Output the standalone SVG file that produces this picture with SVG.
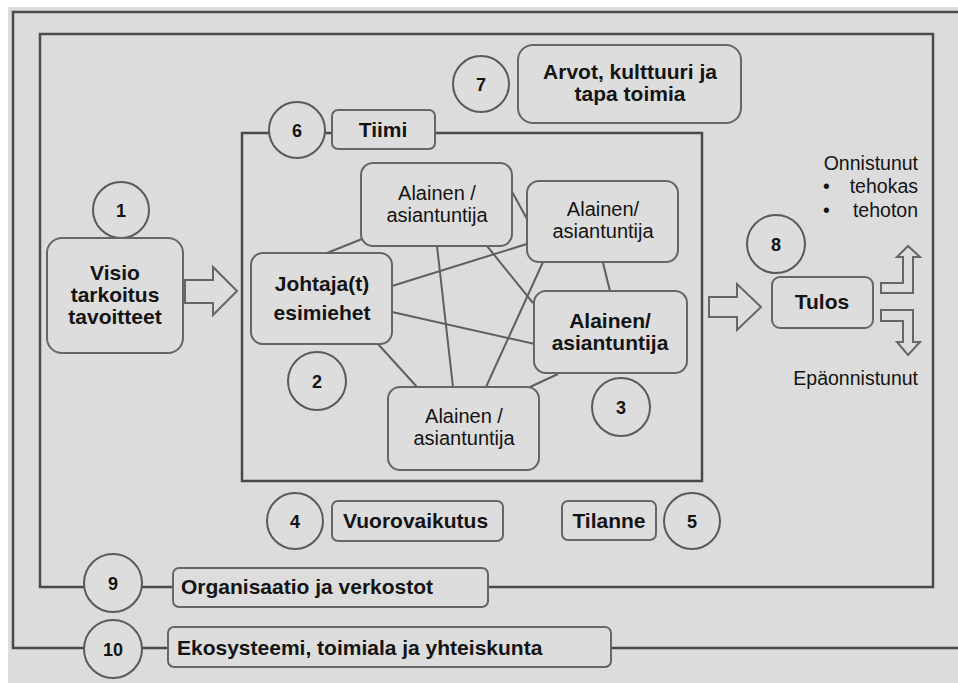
<svg xmlns="http://www.w3.org/2000/svg" width="958" height="683" viewBox="0 0 958 683">
<style>
.bg{fill:#dcdcdc}
.box{fill:#dddddd;stroke:#666;stroke-width:2}
.circ{fill:#dddddd;stroke:#5a5a5a;stroke-width:2}
.frame{fill:none;stroke:#4a4a4a;stroke-width:2.5}
.link{fill:none;stroke:#5f5f5f;stroke-width:2}
.barrow{fill:#dddddd;stroke:#666;stroke-width:2;stroke-linejoin:miter}
text{font-family:"Liberation Sans",Arial,sans-serif;fill:#141414}
.b{font-weight:bold;font-size:21px}
.r{font-size:20px}
.s{font-size:19.5px}
.n{font-weight:bold;font-size:18px;text-anchor:middle}
.c{text-anchor:middle}
.e{text-anchor:end}
</style>
<rect width="958" height="683" fill="#ffffff"/>
<rect class="bg" x="8" y="7" width="950" height="676"/>

<g id="connectors">
  <path class="frame" d="M84 648 H13 V12 H958"/>
  <path class="frame" d="M142 648 H168"/>
  <path class="frame" d="M611 648 H958"/>
  <path class="frame" d="M84 587 H40 V34 H933 V587 H488"/>
  <path class="frame" d="M142 587 H173"/>
  <path class="frame" d="M270 133 H242 V481 H702 V133 H435"/>
  <path class="frame" d="M325 133 H332"/>
  <line class="link" x1="327" y1="253" x2="362" y2="239"/>
  <line class="link" x1="510" y1="188" x2="527" y2="219"/>
  <line class="link" x1="392" y1="286" x2="530" y2="243"/>
  <line class="link" x1="392" y1="312" x2="535" y2="344"/>
  <line class="link" x1="378" y1="344" x2="417" y2="387"/>
  <line class="link" x1="437" y1="246" x2="453" y2="387"/>
  <line class="link" x1="487" y1="246" x2="533" y2="303"/>
  <line class="link" x1="543" y1="262" x2="486" y2="387"/>
  <line class="link" x1="603" y1="263" x2="610" y2="291"/>
  <line class="link" x1="558" y1="374" x2="530" y2="387"/>
  <polygon class="barrow" points="185,280 213,280 213,267 237,291 213,315 213,303 185,303"/>
  <polygon class="barrow" points="709,297 737,297 737,284 761,307 737,330 737,317 709,317"/>
  <polygon class="barrow" points="881,283 903,283 903,257 897,257 908,246 920,257 913,257 913,293 881,293"/>
  <polygon class="barrow" points="881,310 913,310 913,342 920,342 908,355 897,342 903,342 903,321 881,321"/>
</g>

<g id="n1">
  <circle class="circ" cx="121" cy="210" r="28"/>
  <text class="n" x="121" y="217">1</text>
</g>
<g id="visio">
  <rect class="box" x="47" y="238" width="136" height="115" rx="15"/>
  <text class="b c" x="115" y="280">Visio</text>
  <text class="b c" x="115" y="302">tarkoitus</text>
  <text class="b c" x="115" y="324">tavoitteet</text>
</g>

<g id="n6">
  <circle class="circ" cx="297" cy="130" r="28"/>
  <text class="n" x="297" y="137">6</text>
</g>
<g id="tiimi">
  <rect class="box" x="332" y="110" width="103" height="39" rx="6"/>
  <text class="b c" x="383" y="137">Tiimi</text>
</g>

<g id="n7">
  <circle class="circ" cx="481" cy="84" r="28"/>
  <text class="n" x="481" y="91">7</text>
</g>
<g id="arvot">
  <rect class="box" x="518" y="45" width="223" height="78" rx="15"/>
  <text class="b c" x="630" y="79">Arvot, kulttuuri ja</text>
  <text class="b c" x="630" y="101">tapa toimia</text>
</g>

<g id="alainenA">
  <rect class="box" x="361" y="163" width="151" height="83" rx="12"/>
  <text class="r c" x="437" y="200">Alainen /</text>
  <text class="r c" x="437" y="222">asiantuntija</text>
</g>
<g id="alainenB">
  <rect class="box" x="527" y="181" width="151" height="81" rx="12"/>
  <text class="r c" x="603" y="216">Alainen/</text>
  <text class="r c" x="603" y="238">asiantuntija</text>
</g>
<g id="johtaja">
  <rect class="box" x="251" y="253" width="141" height="91" rx="12"/>
  <text class="b c" x="322" y="291">Johtaja(t)</text>
  <text class="b c" x="322" y="320">esimiehet</text>
</g>
<g id="alainenC">
  <rect class="box" x="534" y="291" width="153" height="82" rx="12"/>
  <text class="b c" x="610" y="328">Alainen/</text>
  <text class="b c" x="610" y="350">asiantuntija</text>
</g>
<g id="alainenD">
  <rect class="box" x="388" y="387" width="151" height="83" rx="12"/>
  <text class="r c" x="464" y="423">Alainen /</text>
  <text class="r c" x="464" y="445">asiantuntija</text>
</g>

<g id="n2">
  <circle class="circ" cx="317" cy="381" r="29"/>
  <text class="n" x="317" y="388">2</text>
</g>
<g id="n3">
  <circle class="circ" cx="621" cy="407" r="29"/>
  <text class="n" x="621" y="414">3</text>
</g>

<g id="n8">
  <circle class="circ" cx="776" cy="244" r="29"/>
  <text class="n" x="776" y="251">8</text>
</g>
<g id="tulos">
  <rect class="box" x="772" y="277" width="101" height="51" rx="8"/>
  <text class="b c" x="822" y="309">Tulos</text>
</g>
<g id="onnistunut">
  <text class="s e" x="918" y="170">Onnistunut</text>
  <text class="s" x="823" y="193">•</text>
  <text class="s e" x="918" y="193">tehokas</text>
  <text class="s" x="823" y="217">•</text>
  <text class="s e" x="918" y="217">tehoton</text>
</g>
<g id="epaonnistunut">
  <text class="s e" x="918" y="385">Epäonnistunut</text>
</g>

<g id="n4">
  <circle class="circ" cx="295" cy="521" r="28"/>
  <text class="n" x="295" y="528">4</text>
</g>
<g id="vuorovaikutus">
  <rect class="box" x="332" y="501" width="171" height="40" rx="6"/>
  <text class="b" x="343" y="528">Vuorovaikutus</text>
</g>
<g id="tilanne">
  <rect class="box" x="562" y="501" width="94" height="39" rx="6"/>
  <text class="b c" x="609" y="528">Tilanne</text>
</g>
<g id="n5">
  <circle class="circ" cx="692" cy="521" r="28"/>
  <text class="n" x="692" y="528">5</text>
</g>

<g id="n9">
  <circle class="circ" cx="113" cy="583" r="29"/>
  <text class="n" x="113" y="590">9</text>
</g>
<g id="organisaatio">
  <rect class="box" x="173" y="568" width="315" height="39" rx="6"/>
  <text class="b" x="181" y="594">Organisaatio ja verkostot</text>
</g>

<g id="n10">
  <circle class="circ" cx="113" cy="649" r="29"/>
  <text class="n" x="113" y="656">10</text>
</g>
<g id="ekosysteemi">
  <rect class="box" x="168" y="627" width="443" height="40" rx="6"/>
  <text class="b" x="177" y="655">Ekosysteemi, toimiala ja yhteiskunta</text>
</g>
</svg>
